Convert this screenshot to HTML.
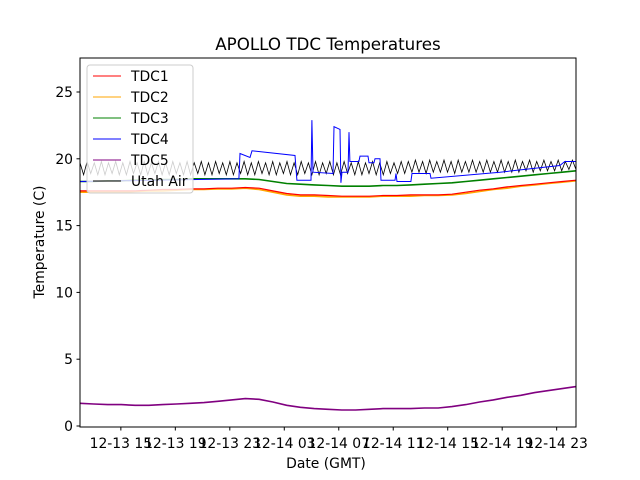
<!DOCTYPE html>
<html><head><meta charset="utf-8"><style>
body{margin:0;background:#fff;}
svg{display:block;font-family:"DejaVu Sans","Liberation Sans",sans-serif;}
</style></head><body>
<svg id="chart" width="640" height="480" viewBox="0 0 640 480">
<rect x="0" y="0" width="640" height="480" fill="#fff"/>
<text x="328" y="50" font-size="16.7" text-anchor="middle">APOLLO TDC Temperatures</text>
<g id="series"></g>
<rect x="80" y="58" width="496" height="369" fill="none" stroke="#000" stroke-width="1"/>
<g id="yticks"></g>
<g id="xticks"></g>
<text x="326" y="468" font-size="13.9" text-anchor="middle">Date (GMT)</text>
<text transform="translate(44,242) rotate(-90)" font-size="13.9" text-anchor="middle">Temperature (C)</text>
<g id="legend"></g>
</svg>
<script>
const yTicks=[0,5,10,15,20,25];
const xTickHours=[3,7,11,15,19,23,27,31,35];
const xTickLabels=["12-13 15","12-13 19","12-13 23","12-14 03","12-14 07","12-14 11","12-14 15","12-14 19","12-14 23"];
const seriesNames=["TDC1","TDC2","TDC3","TDC4","TDC5","Utah Air"];
const seriesColors=["#ff0000","#ffa500","#008000","#0000ff","#800080","#000000"];
const tdc1=[17.6,17.6,17.6,17.6,17.6,17.65,17.7,17.7,17.75,17.75,17.8,17.8,17.85,17.8,17.6,17.4,17.3,17.3,17.25,17.2,17.2,17.2,17.25,17.25,17.3,17.3,17.3,17.35,17.5,17.65,17.75,17.9,18.0,18.1,18.2,18.3,18.4];
const tdc2=[17.5,17.5,17.5,17.5,17.55,17.6,17.6,17.65,17.7,17.7,17.75,17.75,17.8,17.7,17.5,17.3,17.2,17.2,17.15,17.15,17.15,17.15,17.2,17.2,17.2,17.25,17.25,17.3,17.4,17.55,17.7,17.8,17.95,18.05,18.15,18.25,18.35];
const tdc3=[18.3,18.3,18.35,18.35,18.4,18.4,18.45,18.45,18.5,18.5,18.5,18.5,18.5,18.45,18.3,18.15,18.1,18.05,18.0,17.95,17.95,17.95,18.0,18.0,18.05,18.1,18.15,18.2,18.3,18.4,18.5,18.6,18.7,18.8,18.9,19.0,19.1];
const tdc5=[1.7,1.65,1.6,1.6,1.55,1.55,1.6,1.65,1.7,1.75,1.85,1.95,2.05,2.0,1.8,1.55,1.4,1.3,1.25,1.2,1.2,1.25,1.3,1.3,1.3,1.35,1.35,1.45,1.6,1.8,1.95,2.15,2.3,2.5,2.65,2.8,2.95];
const tdc4Hours=[0,11.67,11.75,12.48,12.63,15.79,15.93,16.96,17.03,17.11,18.58,18.65,19.09,19.16,19.24,19.68,19.75,19.82,20.48,20.56,21.15,21.22,21.59,21.66,22.03,22.1,23.13,23.2,23.28,24.3,24.38,25.7,25.77,30.84,35.24,35.6,36.42];
const tdc4=[18.3,18.5,20.4,20.1,20.6,20.25,18.4,18.4,22.9,19.0,18.9,22.4,22.2,18.2,19.0,19.0,22.0,19.8,19.8,20.2,20.2,19.7,19.7,20.0,20.0,18.4,18.4,18.9,18.3,18.3,18.9,18.9,18.55,19.0,19.5,19.8,19.8];
const utahAir=[19.7,18.8,19.8,18.9,19.7,18.8,19.8,18.8,19.7,18.9,19.8,18.8,19.7,18.8,19.8,18.9,19.7,18.8,19.8,18.8,19.7,18.9,19.8,18.8,19.7,18.8,19.8,18.9,19.7,18.8,19.8,18.8,19.7,18.9,19.8,18.8,19.7,18.8,19.8,18.9,19.7,18.8,19.8,18.8,19.7,18.9,19.8,18.8,19.7,18.8,19.8,18.9,19.7,18.8,19.8,18.8,19.7,18.9,19.8,18.8,19.7,18.8,19.8,18.9,19.7,18.8,19.8,18.8,19.7,18.9,19.8,18.8,19.7,18.8,19.8,18.9,19.7,18.8,19.8,18.8,19.7,18.9,19.8,18.8,19.7,18.8,19.8,18.9,19.7,18.9,19.8,18.9,19.8,19.0,19.9,19.0,19.8,18.9,19.9,19.0,19.8,19.0,19.9,19.0,19.8,18.9,19.9,19.0,19.8,19.0,19.9,19.0,19.8,19.0,19.9,19.0,19.8,19.0,19.9,19.0,19.8,19.0,19.9,19.0,19.8,19.1,19.9,19.0,19.8,19.1,19.9,19.1,19.8,19.1,19.9,19.1,19.8,19.2,19.9,19.2];
const spanHours=36.42;
const NS="http://www.w3.org/2000/svg";
function xS(h){return 80+h*(496/spanHours);}
function yS(v){return 426-v*13.36;}
function mk(tag,attrs,parent){const e=document.createElementNS(NS,tag);for(const k in attrs)e.setAttribute(k,attrs[k]);parent.appendChild(e);return e;}
const sg=document.getElementById('series');
function drawLine(hours,vals,color,name,w){
  const pts=vals.map((v,i)=>xS(hours[i]).toFixed(1)+","+yS(v).toFixed(1)).join(" ");
  const pl=mk('polyline',{points:pts,fill:'none',stroke:color,'stroke-width':w,'stroke-linejoin':'miter'},sg);
  
  
}
const hourly=tdc1.map((_,i)=>i*spanHours/(tdc1.length-1));
const utahHours=utahAir.map((_,i)=>i*spanHours/(utahAir.length-1));
drawLine(hourly,tdc5,seriesColors[4],'tdc5-line',1.6);
drawLine(utahHours,utahAir,seriesColors[5],'utah-air-line',0.8);
drawLine(hourly,tdc3,seriesColors[2],'tdc3-line',1.6);
drawLine(hourly,tdc2,seriesColors[1],'tdc2-line',1.6);
drawLine(hourly,tdc1,seriesColors[0],'tdc1-line',1.2);
drawLine(tdc4Hours,tdc4,seriesColors[3],'tdc4-line',1.0);
const yg=document.getElementById('yticks');
yTicks.forEach(v=>{
  const y=yS(v);
  const t=mk('line',{x1:76.5,x2:80,y1:y,y2:y,stroke:'#000'},yg);
  
  
  const l=mk('text',{x:73,y:y+5,'font-size':13.9,'text-anchor':'end'},yg);
  l.textContent=v;
  
  
});
const xg=document.getElementById('xticks');
xTickHours.forEach((h,i)=>{
  const x=xS(h);
  const t=mk('line',{x1:x,x2:x,y1:427,y2:430.5,stroke:'#000'},xg);
  
  
  const l=mk('text',{x:x,y:448,'font-size':13.9,'text-anchor':'middle'},xg);
  l.textContent=xTickLabels[i];
  
  
});
const lg=document.getElementById('legend');
const box=mk('rect',{x:87,y:65,width:106,height:128,rx:3,fill:'#fff','fill-opacity':0.8,stroke:'#ccc'},lg);


seriesNames.forEach((n,i)=>{
  const y=76+i*21;
  const ln=mk('line',{x1:93,x2:121,y1:y,y2:y,stroke:seriesColors[i],'stroke-width':1},lg);
  
  
  const tx=mk('text',{x:131,y:y+5,'font-size':13.9},lg);
  tx.textContent=n;
  
  
});
</script>
</body></html>
